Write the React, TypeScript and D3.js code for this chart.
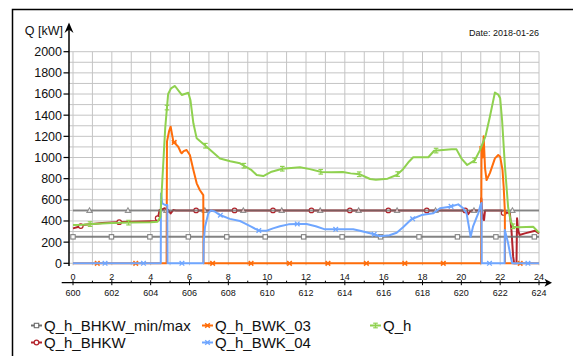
import React from "react";
import * as d3 from "d3";

// ---- data ----
const hoursTicks = [0, 2, 4, 6, 8, 10, 12, 14, 16, 18, 20, 22, 24];
const hoursAlt = ["600", "602", "604", "606", "608", "610", "612", "614", "616", "618", "620", "622", "624"];
const yTicks = [0, 200, 400, 600, 800, 1000, 1200, 1400, 1600, 1800, 2000];

const minMaxT = [0, 24];
const minV = [250, 250];
const maxV = [500, 500];

const bhkwT = [0, 0.3, 0.6, 1.0, 1.5, 2.0, 2.5, 3.0, 3.5, 4.0, 4.31, 4.39, 4.46, 4.6, 4.72, 4.9, 5.03, 5.17, 5.3, 20.2, 20.35, 20.45, 20.55, 21.0, 21.03, 21.06, 21.12, 21.17, 21.22, 22.1, 22.2, 22.35, 22.5, 22.58, 22.67, 22.72, 22.84, 22.87, 22.92, 23.0, 23.27, 23.8, 24];
const bhkwV = [330, 345, 365, 372, 380, 385, 390, 393, 395, 398, 400, 441, 504, 510, 520, 504, 472, 504, 500, 500, 465, 490, 500, 500, 614, 500, 420, 409, 500, 500, 470, 480, 472, 315, 63, 0, 0, 425, 315, 268, 283, 308, 283];

const bwk03T = [0, 4.82, 4.84, 4.95, 5.03, 5.12, 5.17, 5.42, 5.55, 5.6, 5.7, 5.85, 6.02, 6.2, 6.37, 6.53, 6.71, 6.72, 21.02, 21.04, 21.1, 21.15, 21.22, 21.3, 21.47, 21.73, 21.9, 22.0, 22.12, 22.18, 22.24, 22.25, 24];
const bwk03V = [0, 0, 1150, 1250, 1291, 1200, 1150, 1102, 1050, 1040, 1060, 1071, 1024, 882, 756, 693, 645, 0, 0, 1100, 1000, 1200, 900, 787, 853, 992, 1024, 1008, 882, 724, 504, 0, 0];

const bwk04T = [0, 4.52, 4.53, 4.6, 4.74, 4.86, 4.87, 6.72, 6.73, 6.8, 6.97, 7.1, 7.3, 7.57, 8.08, 8.6, 8.77, 9.2, 9.54, 9.97, 10.3, 10.66, 11.1, 11.52, 12.03, 12.5, 12.98, 13.58, 14.43, 14.78, 15.46, 15.81, 16.3, 16.67, 17.0, 17.43, 17.95, 18.55, 18.9, 19.41, 19.84, 20.1, 20.27, 20.48, 20.6, 20.87, 21.0, 21.04, 21.05, 22.23, 22.24, 22.41, 22.54, 22.62, 24];
const bwk04V = [0, 0, 660, 567, 551, 550, 0, 0, 200, 346, 472, 500, 490, 456, 420, 400, 385, 345, 310, 308, 330, 350, 368, 372, 372, 350, 321, 321, 321, 308, 277, 255, 265, 289, 340, 416, 456, 472, 520, 535, 557, 520, 472, 251, 346, 472, 557, 570, 0, 0, 315, 189, 63, 0, 0];

const qhT = [0, 0.5, 1, 2, 3, 4, 4.35, 4.5, 4.6, 4.75, 4.9, 5.05, 5.25, 5.6, 5.94, 6.05, 6.2, 6.37, 6.88, 7.57, 8.1, 8.6, 8.82, 9.2, 9.46, 9.8, 10.23, 10.78, 11.69, 12.2, 12.8, 13.3, 13.9, 14.3, 14.78, 15.3, 15.6, 16.2, 16.67, 17.0, 17.3, 17.52, 18.3, 18.6, 19.5, 19.75, 20.0, 20.3, 20.7, 20.96, 21.25, 21.47, 21.73, 21.9, 22.0, 22.1, 22.24, 22.41, 22.54, 22.67, 23.0, 23.7, 24.0];
const qhV = [362, 365, 372, 380, 385, 387, 392, 440, 780, 1280, 1600, 1654, 1676, 1591, 1612, 1540, 1323, 1181, 1102, 990, 965, 945, 920, 880, 835, 825, 866, 894, 907, 890, 863, 860, 863, 850, 841, 797, 790, 800, 835, 890, 960, 1002, 1002, 1064, 1077, 1077, 992, 929, 976, 1070, 1205, 1386, 1614, 1595, 1560, 1350, 930, 530, 400, 346, 340, 346, 290];

const names = ["Q_h_BHKW_min/max", "Q_h_BHKW", "Q_h_BWK_03", "Q_h_BWK_04", "Q_h"];
const colors = ["#6e6e6e", "#b3232b", "#ff6d0a", "#6fa6ff", "#8fd14f"];
const markerStep = 1.98;
const markerOffsets = { min: 0, max: 0.85, bhkw: 0.4, bwk03: 1.25, bwk04: 1.65, qh: 0.88 };

// ---- geometry ----
const W = 573, H = 356;
const x = d3.scaleLinear().domain([0, 24]).range([73, 539]);
const y = d3.scaleLinear().domain([0, 2000]).range([263.3, 51.7]);
const FONT = "'Liberation Sans', Arial, Helvetica, sans-serif";

function interp(ts: number[], vs: number[], t: number) {
  for (let i = 0; i < ts.length - 1; i++) {
    if (t >= ts[i] && t <= ts[i + 1]) {
      const d = ts[i + 1] - ts[i];
      if (d === 0) return vs[i + 1];
      return vs[i] + ((vs[i + 1] - vs[i]) * (t - ts[i])) / d;
    }
  }
  return vs[vs.length - 1];
}

function markerTimes(offset: number) {
  const out: number[] = [];
  for (let t = offset; t <= 24.0001; t += markerStep) out.push(t);
  return out;
}

type Shape = "square" | "triangle" | "circle" | "star" | "cross" | "ibeam";

function Marker({ cx, cy, shape, color }: { cx: number; cy: number; shape: Shape; color: string }) {
  const s = 2.3;
  switch (shape) {
    case "square":
      return <rect x={cx - 2.2} y={cy - 2.2} width={4.4} height={4.4} fill="white" stroke={color} strokeWidth={1.1} />;
    case "triangle":
      return <path d={`M${cx},${cy - 2.6} L${cx + 2.6},${cy + 2} L${cx - 2.6},${cy + 2} Z`} fill="white" stroke={color} strokeWidth={1.1} />;
    case "circle":
      return <circle cx={cx} cy={cy} r={2.3} fill="white" stroke={color} strokeWidth={1.2} />;
    case "star":
      return (
        <g stroke={color} strokeWidth={1.5}>
          <line x1={cx - s} y1={cy - s} x2={cx + s} y2={cy + s} />
          <line x1={cx - s} y1={cy + s} x2={cx + s} y2={cy - s} />
          <line x1={cx - s} y1={cy} x2={cx + s} y2={cy} />
        </g>
      );
    case "cross":
      return (
        <g stroke={color} strokeWidth={1.3}>
          <line x1={cx - s} y1={cy - s} x2={cx + s} y2={cy + s} />
          <line x1={cx - s} y1={cy + s} x2={cx + s} y2={cy - s} />
        </g>
      );
    case "ibeam":
      return (
        <g stroke={color} strokeWidth={1.2}>
          <line x1={cx - s} y1={cy - s} x2={cx + s} y2={cy - s} />
          <line x1={cx - s} y1={cy + s} x2={cx + s} y2={cy + s} />
          <line x1={cx} y1={cy - s} x2={cx} y2={cy + s} />
        </g>
      );
  }
  return null;
}

function Series({ ts, vs, color, shape, offset, opacity = 1 }: { ts: number[]; vs: number[]; color: string; shape: Shape; offset: number; opacity?: number }) {
  const pts: [number, number][] = ts.map((t, i) => [t, vs[i]]);
  const line = d3.line<[number, number]>().x((d) => x(d[0])).y((d) => y(d[1]));
  const mts = markerTimes(offset);
  return (
    <g opacity={opacity}>
      <path d={line(pts) || ""} fill="none" stroke={color} strokeWidth={2} strokeLinejoin="round" />
      {mts.map((t, i) => (
        <Marker key={i} cx={x(t)} cy={y(interp(ts, vs, t))} shape={shape} color={color} />
      ))}
    </g>
  );
}

export default function App() {
  const gridX = d3.range(0, 25, 1);
  const gridY = d3.range(0, 2001, 100);
  const xAxisY = 282.7;
  const legend = [
    { name: names[0], color: colors[0], shape: "square" as Shape, lx: 31, ly: 325.5 },
    { name: names[1], color: colors[1], shape: "circle" as Shape, lx: 31, ly: 342.5 },
    { name: names[2], color: colors[2], shape: "star" as Shape, lx: 202, ly: 325.5 },
    { name: names[3], color: colors[3], shape: "cross" as Shape, lx: 202, ly: 342.5 },
    { name: names[4], color: colors[4], shape: "ibeam" as Shape, lx: 370, ly: 325.5 },
  ];
  return (
    <svg width={W} height={H} style={{ position: "absolute", left: 0, top: 0, background: "white" }} fontFamily={FONT}>
      <rect x={0} y={0} width={W} height={H} fill="white" />
      {/* frame */}
      <path d={`M12.5,${H} V9.5 H${W}`} fill="none" stroke="black" strokeWidth={1.5} />
      {/* date */}
      <text x={539} y={35.5} fontSize={9} textAnchor="end" fill="#111">Date: 2018-01-26</text>
      {/* grid */}
      <g stroke="#c4c4c4" strokeWidth={1}>
        {gridX.map((h) => (
          <line key={"gx" + h} x1={x(h)} x2={x(h)} y1={y(2000)} y2={y(0) + 2} />
        ))}
        {gridY.map((v) => (
          <line key={"gy" + v} x1={69} x2={x(24)} y1={y(v)} y2={y(v)} />
        ))}
      </g>
      {/* y axis */}
      <line x1={69} x2={69} y1={266} y2={26} stroke="black" strokeWidth={1.5} />
      <path d="M69,22.5 L64.5,33 L69,29.5 L73.5,33 Z" fill="black" />
      {yTicks.map((v) => (
        <g key={"yt" + v}>
          <line x1={63.5} x2={69} y1={y(v)} y2={y(v)} stroke="black" strokeWidth={1.2} />
          <text x={62} y={y(v)} dy="0.35em" fontSize={12.5} textAnchor="end" fill="#111">{v}</text>
        </g>
      ))}
      <text x={63} y={31} dy="0.35em" fontSize={12.5} textAnchor="end" fill="#111">Q [kW]</text>
      {/* x axis */}
      <line x1={61.7} x2={548} y1={xAxisY} y2={xAxisY} stroke="black" strokeWidth={1.3} />
      <path d={`M552,${xAxisY} L544.5,${xAxisY - 4} L546.5,${xAxisY} L544.5,${xAxisY + 4} Z`} fill="black" />
      {gridX.map((h) => (
        <line key={"xt" + h} x1={x(h)} x2={x(h)} y1={h % 2 === 0 ? xAxisY - 2.5 : xAxisY - 2} y2={h % 2 === 0 ? xAxisY + 2.5 : xAxisY} stroke="black" strokeWidth={1} />
      ))}
      {hoursTicks.map((h, i) => (
        <g key={"xl" + h}>
          <text x={x(h)} y={276.8} dy="0.35em" fontSize={9} textAnchor="middle" fill="#111">{h}</text>
          <text x={x(h)} y={293.2} dy="0.35em" fontSize={9} textAnchor="middle" fill="#111">{hoursAlt[i]}</text>
        </g>
      ))}
      {/* series */}
      <Series ts={bhkwT} vs={bhkwV} color={colors[1]} shape="circle" offset={markerOffsets.bhkw} />
      <Series ts={minMaxT} vs={minV} color={colors[0]} shape="square" offset={markerOffsets.min} opacity={0.85} />
      <Series ts={minMaxT} vs={maxV} color={colors[0]} shape="triangle" offset={markerOffsets.max} opacity={0.75} />
      <Series ts={bwk03T} vs={bwk03V} color={colors[2]} shape="star" offset={markerOffsets.bwk03} />
      <Series ts={bwk04T} vs={bwk04V} color={colors[3]} shape="cross" offset={markerOffsets.bwk04} />
      <Series ts={qhT} vs={qhV} color={colors[4]} shape="ibeam" offset={markerOffsets.qh} />
      {/* legend */}
      {legend.map((l) => (
        <g key={l.name}>
          <line x1={l.lx} x2={l.lx + 11} y1={l.ly} y2={l.ly} stroke={l.color} strokeWidth={2} />
          <Marker cx={l.lx + 5.5} cy={l.ly} shape={l.shape} color={l.color} />
          <text x={l.lx + 13} y={l.ly} dy="0.35em" fontSize={15} fill="#111">{l.name}</text>
        </g>
      ))}
    </svg>
  );
}
